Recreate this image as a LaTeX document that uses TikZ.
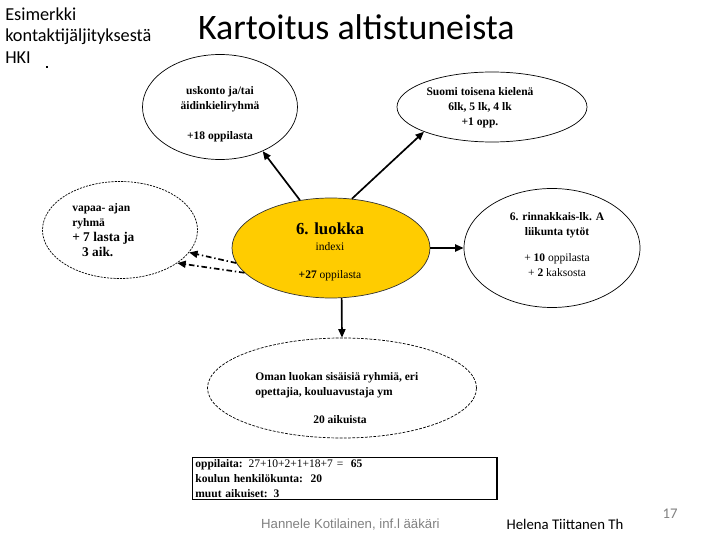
\documentclass[tikz,border=0pt]{standalone}
\usepackage{fontspec}
\setmainfont{Liberation Serif}
\newfontfamily\calibri{Carlito}
\newfontfamily\arial{Liberation Sans}
\usetikzlibrary{shapes.geometric,arrows.meta}

\definecolor{kYellow}{RGB}{255,204,0}
\definecolor{kGray}{RGB}{128,128,128}

\begin{document}
\begin{tikzpicture}[font=\fontsize{8.2}{10.6}\selectfont\bfseries,
  bubble/.style={ellipse, draw, inner sep=0pt, line width=0.5pt},
  link/.style={-{Triangle[length=6pt,width=5pt]}, line width=1.2pt},
  dashlink/.style={link, dash pattern=on 4pt off 2pt on 1pt off 2pt}]
\useasboundingbox (0,0) rectangle (18,13.5);
%% ---- Heading ----
\node[anchor=west, align=left, inner sep=0pt, font=\calibri\fontsize{13}{15.2}\selectfont] (source) at (0.125,12.61) {Esimerkki\\kontaktijäljityksestä\\HKI};
\fill (1.15,11.79) rectangle (1.2,11.84);
\node[font=\calibri\fontsize{25.5}{30}\selectfont] (title) at (8.91,12.82) {Kartoitus altistuneista};
%% ---- Groups ----
\node[bubble, minimum width=3.875cm, minimum height=2.625cm] (uskonto) at (5.5,10.825) {};
\node[bubble, minimum width=4.75cm, minimum height=1.75cm] (suomi) at (12.3,10.825) {};
\node[bubble, dash pattern=on 1.5pt off 0.8pt, minimum width=3.875cm, minimum height=2.425cm] (vapaa) at (3.0,7.75) {};
\node[bubble, draw=black!80, fill=kYellow, minimum width=4.95cm, minimum height=2.5cm] (luokka) at (8.275,7.3) {};
\node[bubble, minimum width=4.4cm, minimum height=2.975cm] (rinnakkais) at (13.8,7.3) {};
\node[bubble, dash pattern=on 2pt off 1pt, minimum width=6.725cm, minimum height=2.5cm] (oman) at (8.55,3.8) {};
%% ---- Texts in the groups ----
\node[align=center, inner sep=0pt] (uskontoTxt) at (5.5,10.64) {uskonto ja/tai\\äidinkieliryhmä\\[10.6pt]+18 oppilasta};
\node[align=center, inner sep=0pt] (suomiTxt) at (12.0,10.8) {Suomi toisena kielenä\\6lk, 5 lk, 4 lk\\+1 opp.};
\node[anchor=west, align=left, inner sep=0pt] (vapaaTxt) at (1.8,7.75) {vapaa- ajan\\ryhmä\\{\fontsize{9.5}{10.6}\selectfont + 7 lasta ja}\\{\fontsize{9.5}{10.6}\selectfont\hspace*{7pt}3 aik.}};
\node[font=\fontsize{12}{14}\selectfont\bfseries] (luokkaTxt) at (8.25,7.78) {6. luokka};
\node[font=\fontsize{8.2}{10.6}\selectfont] (indexTxt) at (8.25,7.33) {indexi};
\node (luokkaNum) at (8.25,6.6) {+27 \mdseries oppilasta};
\node[align=center, inner sep=0pt] (rinnakkaisTxt) at (13.925,7.86) {6. rinnakkais-lk. A\\liikunta tytöt};
\node[align=center, inner sep=0pt, font=\fontsize{8.2}{10.6}\selectfont] (rinnakkaisNum) at (13.925,6.875) {+ \textbf{10} oppilasta\\+ \textbf{2} kaksosta};
\node[anchor=west, align=left, inner sep=0pt] (omanTxt) at (6.375,3.875) {Oman luokan sisäisiä ryhmiä, eri\\opettajia, kouluavustaja ym};
\node (omanNum) at (8.5,3.0) {20 aikuista};
%% ---- Links ----
\draw[link] (luokka.123) -- (uskonto.-46);
\draw[link] (luokka.67) -- (suomi.-160);
\draw[link] (luokka.east) -- (rinnakkais.west);
\draw[link] (luokka.-78) -- (oman.north);
\draw[dashlink] (luokka.-171) -- (vapaa.-18);
\draw[dashlink] (luokka.-164) -- (vapaa.-30);
%% ---- Summary ----
\node[draw, line width=0.8pt, anchor=north west, inner xsep=2pt, inner ysep=1.5pt, text width=7.47cm, align=left] (summary) at (4.8,2.075)
  {oppilaita: \mdseries 27+10+2+1+18+7 =\ \ \bfseries 65\\koulun henkilökunta:\ \ 20\\muut aikuiset: 3};
%% ---- Footer ----
\node[font=\arial\fontsize{9.4}{11}\selectfont, text=kGray] (author) at (8.76,0.375) {Hannele Kotilainen, inf.l ääkäri};
\node[font=\calibri\fontsize{10.5}{12}\selectfont] (nurse) at (14.125,0.4) {Helena Tiittanen Th};
\node[font=\calibri\fontsize{10.5}{12}\selectfont, text=kGray] (page) at (16.75,0.65) {17};
\end{tikzpicture}
\end{document}
